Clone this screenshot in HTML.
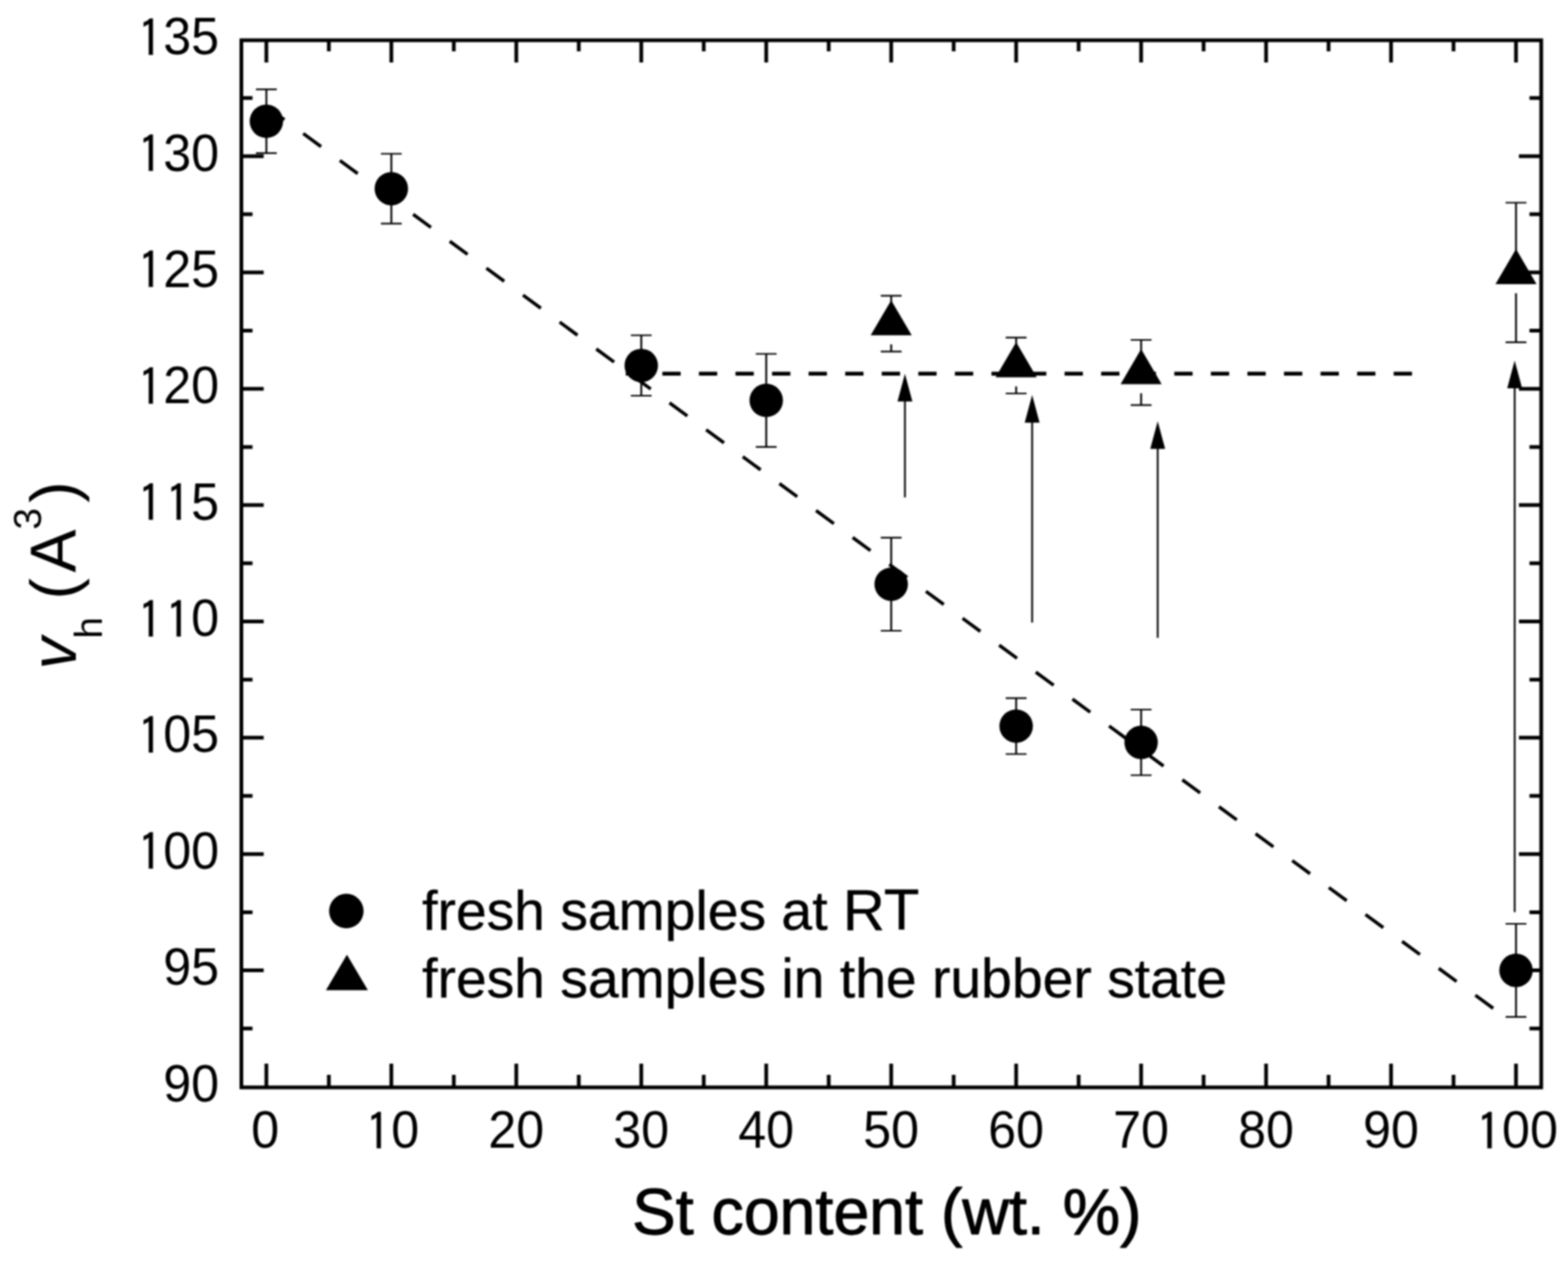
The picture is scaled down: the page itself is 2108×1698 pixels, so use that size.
<!DOCTYPE html>
<html lang="en"><head><meta charset="utf-8"><title>Free volume hole size vs St content</title>
<style>
html,body{margin:0;padding:0;background:#fff;}
body{width:2108px;height:1698px;overflow:hidden;}
svg{display:block;}
text{font-family:"Liberation Sans",sans-serif;fill:#000;}
.tk{font-size:70px;}
.one{font-family:"IPAGothic","Liberation Sans",sans-serif;font-size:68.78px;stroke:#000;stroke-width:0.35px;}
.lg{font-size:74.3px;stroke:#000;stroke-width:0.5px;stroke-linejoin:round;}
.ax{font-size:86.7px;stroke:#000;stroke-width:1.3px;stroke-linejoin:round;}
.ay{font-size:86.7px;}
</style></head><body>
<svg width="2108" height="1698" viewBox="0 0 2108 1698">
<defs><filter id="soft" x="0" y="0" width="2108" height="1698" filterUnits="userSpaceOnUse" color-interpolation-filters="sRGB"><feGaussianBlur stdDeviation="0.8"/></filter></defs>
<rect x="0" y="0" width="2108" height="1698" fill="#fff"/>
<g filter="url(#soft)">
<rect x="0" y="0" width="2108" height="1698" fill="#fff"/>
<g fill="none" stroke="#000" stroke-linecap="butt">
<path d="M358.1 143.09L2008 1356.1" stroke-width="4.5" stroke-dasharray="29.76 31.36" stroke-dashoffset="-0.4"/>
<path d="M841.3 502.4L1899 502.4" stroke-width="5.4" stroke-dasharray="24.6 24.56"/>
</g>
<g fill="none" stroke="#000" stroke-width="5">
<rect x="324.5" y="54.1" width="1747.5" height="1407.8"/>
</g>
<path d="M358.1 54.1v30M358.1 1461.9v-31.8M442.1 54.1v15M442.1 1461.9v-16.8M526.1 54.1v30M526.1 1461.9v-31.8M610.1 54.1v15M610.1 1461.9v-16.8M694.1 54.1v30M694.1 1461.9v-31.8M778.1 54.1v15M778.1 1461.9v-16.8M862.1 54.1v30M862.1 1461.9v-31.8M946.1 54.1v15M946.1 1461.9v-16.8M1030.1 54.1v30M1030.1 1461.9v-31.8M1114.1 54.1v15M1114.1 1461.9v-16.8M1198.1 54.1v30M1198.1 1461.9v-31.8M1282.1 54.1v15M1282.1 1461.9v-16.8M1366.1 54.1v30M1366.1 1461.9v-31.8M1450.1 54.1v15M1450.1 1461.9v-16.8M1534.1 54.1v30M1534.1 1461.9v-31.8M1618.1 54.1v15M1618.1 1461.9v-16.8M1702.1 54.1v30M1702.1 1461.9v-31.8M1786.1 54.1v15M1786.1 1461.9v-16.8M1870.1 54.1v30M1870.1 1461.9v-31.8M1954.1 54.1v15M1954.1 1461.9v-16.8M2038.1 54.1v30M2038.1 1461.9v-31.8M324.5 1382.81h15M2072 1382.81h-15.8M324.5 1304.62h30M2072 1304.62h-30M324.5 1226.42h15M2072 1226.42h-15.8M324.5 1148.23h30M2072 1148.23h-30M324.5 1070.04h15M2072 1070.04h-15.8M324.5 991.85h30M2072 991.85h-30M324.5 913.65h15M2072 913.65h-15.8M324.5 835.46h30M2072 835.46h-30M324.5 757.27h15M2072 757.27h-15.8M324.5 679.07h30M2072 679.07h-30M324.5 600.88h15M2072 600.88h-15.8M324.5 522.69h30M2072 522.69h-30M324.5 444.5h15M2072 444.5h-15.8M324.5 366.31h30M2072 366.31h-30M324.5 288.11h15M2072 288.11h-15.8M324.5 209.92h30M2072 209.92h-30M324.5 131.73h15M2072 131.73h-15.8" fill="none" stroke="#000" stroke-width="5" stroke-linecap="butt"/>
<g stroke="#000" stroke-width="2.4" fill="#000">
<path d="M1216.6 668.7V534.7" fill="none"/>
<path d="M1216.6 502.5L1226.6 539.7L1206.6 539.7Z" stroke="none"/>
<path d="M1387.6 837.1V563.2" fill="none"/>
<path d="M1387.6 531L1397.6 568.2L1377.6 568.2Z" stroke="none"/>
<path d="M1556.4 857.6V598.5" fill="none"/>
<path d="M1556.4 566.3L1566.4 603.5L1546.4 603.5Z" stroke="none"/>
<path d="M2036.3 1226.3V516.9" fill="none"/>
<path d="M2036.3 484.7L2046.3 521.9L2026.3 521.9Z" stroke="none"/>
</g>
<path d="M358.1 120.16V205.85M526.1 206.79V300.62M862.1 450.75V532.07M1030.1 475.77V600.88M1198.1 722.86V847.97M1366.1 938.67V1013.74M1534.1 954V1042.2M2038.1 1242.06V1367.17M1198.1 397.58V407.11M1198.1 463.11V472.65M1366.1 453.88V463.41M1366.1 519.41V528.95M1534.1 457.01V472.8M1534.1 528.8V544.58M2038.1 272.47V338.31M2038.1 394.31V460.14" fill="none" stroke="#000" stroke-width="2.5"/>
<path d="M344.1 120.16h28M344.1 205.85h28M512.1 206.79h28M512.1 300.62h28M848.1 450.75h28M848.1 532.07h28M1016.1 475.77h28M1016.1 600.88h28M1184.1 722.86h28M1184.1 847.97h28M1352.1 938.67h28M1352.1 1013.74h28M1520.1 954h28M1520.1 1042.2h28M2024.1 1242.06h28M2024.1 1367.17h28M1184.1 397.58h28M1184.1 472.65h28M1352.1 453.88h28M1352.1 528.95h28M1520.1 457.01h28M1520.1 544.58h28M2024.1 272.47h28M2024.1 460.14h28" fill="none" stroke="#000" stroke-width="2.1"/>
<g fill="#000" stroke="none">
<circle cx="358.1" cy="163" r="22.5"/>
<circle cx="526.1" cy="253.71" r="22.5"/>
<circle cx="862.1" cy="491.41" r="22.5"/>
<circle cx="1030.1" cy="538.33" r="22.5"/>
<circle cx="1198.1" cy="785.42" r="22.5"/>
<circle cx="1366.1" cy="976.21" r="22.5"/>
<circle cx="1534.1" cy="998.1" r="22.5"/>
<circle cx="2038.1" cy="1304.62" r="22.5"/>
<path d="M1198.1 403.65L1225.7 450.85L1170.5 450.85Z"/>
<path d="M1366.1 459.95L1393.7 507.15L1338.5 507.15Z"/>
<path d="M1534.1 469.33L1561.7 516.53L1506.5 516.53Z"/>
<path d="M2038.1 334.84L2065.7 382.04L2010.5 382.04Z"/>
<circle cx="465.6" cy="1224.8" r="23.2"/>
<path d="M466.4 1283.6L494.6 1331.2L438.2 1331.2Z"/>
</g>
<g class="tk">
<text transform="translate(219.54 1480.6) scale(0.964 1)">90</text>
<text transform="translate(219.54 1324.21) scale(0.964 1)">95</text>
<text transform="translate(182.01 1167.83) scale(0.964 1)"><tspan class="one" dx="3.3" dy="3.49">1</tspan><tspan dx="1.24" dy="-3.49">0</tspan>0</text>
<text transform="translate(182.01 1011.45) scale(0.964 1)"><tspan class="one" dx="3.3" dy="3.49">1</tspan><tspan dx="1.24" dy="-3.49">0</tspan>5</text>
<text transform="translate(182.01 855.06) scale(0.964 1)"><tspan class="one" dx="3.3" dy="3.49">1</tspan><tspan class="one" dx="4.54" dy="0">1</tspan><tspan dx="1.24" dy="-3.49">0</tspan></text>
<text transform="translate(182.01 698.67) scale(0.964 1)"><tspan class="one" dx="3.3" dy="3.49">1</tspan><tspan class="one" dx="4.54" dy="0">1</tspan><tspan dx="1.24" dy="-3.49">5</tspan></text>
<text transform="translate(182.01 542.29) scale(0.964 1)"><tspan class="one" dx="3.3" dy="3.49">1</tspan><tspan dx="1.24" dy="-3.49">2</tspan>0</text>
<text transform="translate(182.01 385.91) scale(0.964 1)"><tspan class="one" dx="3.3" dy="3.49">1</tspan><tspan dx="1.24" dy="-3.49">2</tspan>5</text>
<text transform="translate(182.01 229.52) scale(0.964 1)"><tspan class="one" dx="3.3" dy="3.49">1</tspan><tspan dx="1.24" dy="-3.49">3</tspan>0</text>
<text transform="translate(182.01 73.13) scale(0.964 1)"><tspan class="one" dx="3.3" dy="3.49">1</tspan><tspan dx="1.24" dy="-3.49">3</tspan>5</text>
<text transform="translate(337.74 1543.3) scale(0.964 1)">0</text>
<text transform="translate(488.57 1543.3) scale(0.964 1)"><tspan class="one" dx="3.3" dy="3.49">1</tspan><tspan dx="1.24" dy="-3.49">0</tspan></text>
<text transform="translate(656.57 1543.3) scale(0.964 1)">20</text>
<text transform="translate(824.57 1543.3) scale(0.964 1)">30</text>
<text transform="translate(992.57 1543.3) scale(0.964 1)">40</text>
<text transform="translate(1160.57 1543.3) scale(0.964 1)">50</text>
<text transform="translate(1328.57 1543.3) scale(0.964 1)">60</text>
<text transform="translate(1496.57 1543.3) scale(0.964 1)">70</text>
<text transform="translate(1664.57 1543.3) scale(0.964 1)">80</text>
<text transform="translate(1832.57 1543.3) scale(0.964 1)">90</text>
<text transform="translate(1981.81 1543.3) scale(0.964 1)"><tspan class="one" dx="3.3" dy="3.49">1</tspan><tspan dx="1.24" dy="-3.49">0</tspan>0</text>
</g>
<text class="lg" x="567.5" y="1249.7">fresh samples at <tspan font-size="78">RT</tspan></text>
<text class="lg" x="567.5" y="1341.4">fresh samples in the rubber state</text>
<text class="ax" x="849.7" y="1658.9"><tspan font-size="88">S</tspan>t content (wt. %)</text>
<text class="ay" transform="translate(102 0) rotate(-90)"><tspan x="-899.9" font-style="italic">v</tspan><tspan x="-858.6" dy="34.5" font-size="52">h</tspan><tspan dy="-34.5"> </tspan><tspan x="-806.1">(</tspan><tspan x="-769.7">A</tspan><tspan x="-711.9" dy="-47.2" font-size="52">3</tspan><tspan x="-675.9" dy="47.2">)</tspan></text>
</g>
</svg>
</body></html>
